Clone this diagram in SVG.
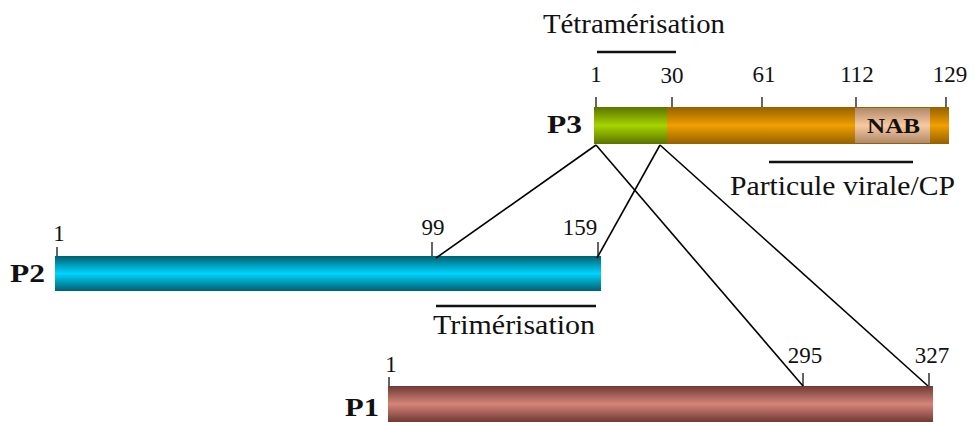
<svg xmlns="http://www.w3.org/2000/svg" width="975" height="422" viewBox="0 0 975 422">
<defs>
<linearGradient id="gGreen" x1="0" y1="0" x2="0" y2="1">
<stop offset="0" stop-color="#5b7300"/><stop offset="0.5" stop-color="#a6d400"/><stop offset="1" stop-color="#5b7300"/>
</linearGradient>
<linearGradient id="gOrange" x1="0" y1="0" x2="0" y2="1">
<stop offset="0" stop-color="#946000"/><stop offset="0.5" stop-color="#f0a000"/><stop offset="1" stop-color="#946000"/>
</linearGradient>
<linearGradient id="gNab" x1="0" y1="0" x2="0" y2="1">
<stop offset="0" stop-color="#b08a6a"/><stop offset="0.5" stop-color="#f8c9a0"/><stop offset="1" stop-color="#b08a6a"/>
</linearGradient>
<linearGradient id="gCyan" x1="0" y1="0" x2="0" y2="1">
<stop offset="0" stop-color="#006070"/><stop offset="0.5" stop-color="#00d4ff"/><stop offset="1" stop-color="#006070"/>
</linearGradient>
<linearGradient id="gPink" x1="0" y1="0" x2="0" y2="1">
<stop offset="0" stop-color="#6e3a34"/><stop offset="0.5" stop-color="#d6847a"/><stop offset="1" stop-color="#6e3a34"/>
</linearGradient>
</defs>
<style>
text{font-family:"Liberation Serif","Times New Roman",serif;fill:#111}
.num{font-size:23px;text-anchor:middle}
.lbl{font-size:27px}
.name{font-size:26px;font-weight:bold}
.tick{stroke:#111;stroke-width:1.3}
.bar{stroke:#111;stroke-width:2.5}
.conn line{stroke:#000;stroke-width:1.6}
</style>

<g id="P3">
<rect x="667" y="107" width="282" height="37" fill="url(#gOrange)"/>
<rect x="594" y="107" width="73" height="37" fill="url(#gGreen)"/>
<rect x="855" y="108" width="75" height="35" fill="url(#gNab)"/>
<text x="867" y="133" font-size="22" font-weight="bold" textLength="53" lengthAdjust="spacingAndGlyphs">NAB</text>
<text class="name" x="547" y="133" textLength="35" lengthAdjust="spacingAndGlyphs">P3</text>
<line class="tick" x1="596" y1="97" x2="596" y2="107"/>
<line class="tick" x1="672" y1="97" x2="672" y2="107"/>
<line class="tick" x1="762" y1="97" x2="762" y2="107"/>
<line class="tick" x1="856" y1="97" x2="856" y2="107"/>
<line class="tick" x1="946" y1="97" x2="946" y2="107"/>
<text class="num" x="596" y="82">1</text>
<text class="num" x="672" y="83">30</text>
<text class="num" x="764" y="82">61</text>
<text class="num" x="857" y="82">112</text>
<text class="num" x="950" y="82">129</text>
</g>

<g id="tetramerisation">
<text class="lbl" x="543" y="33" textLength="182" lengthAdjust="spacingAndGlyphs">Tétramérisation</text>
<line class="bar" x1="597" y1="52" x2="676" y2="52"/>
</g>

<g id="particule">
<line class="bar" x1="769" y1="162" x2="913" y2="162"/>
<text class="lbl" x="730" y="195" textLength="225" lengthAdjust="spacingAndGlyphs">Particule virale/CP</text>
</g>

<g id="P2">
<rect x="55" y="256" width="546" height="35" fill="url(#gCyan)"/>
<text class="name" x="10" y="282" textLength="35" lengthAdjust="spacingAndGlyphs">P2</text>
<line class="tick" x1="57" y1="247" x2="57" y2="256"/>
<line class="tick" x1="432" y1="242" x2="432" y2="256"/>
<line class="tick" x1="598" y1="242" x2="598" y2="256"/>
<text class="num" x="59" y="241">1</text>
<text class="num" x="433" y="235">99</text>
<text class="num" x="580" y="235">159</text>
</g>

<g id="trimerisation">
<line class="bar" x1="436" y1="306" x2="596" y2="306"/>
<text class="lbl" x="433" y="334" textLength="162" lengthAdjust="spacingAndGlyphs">Trimérisation</text>
</g>

<g id="P1">
<rect x="388" y="386" width="545" height="36" fill="url(#gPink)"/>
<text class="name" x="345" y="416" textLength="34" lengthAdjust="spacingAndGlyphs">P1</text>
<line class="tick" x1="389" y1="377" x2="389" y2="386"/>
<line class="tick" x1="803" y1="373" x2="803" y2="386"/>
<line class="tick" x1="929" y1="373" x2="929" y2="386"/>
<text class="num" x="391" y="372">1</text>
<text class="num" x="805" y="363">295</text>
<text class="num" x="932" y="363">327</text>
</g>

<g id="connectors" class="conn">
<line x1="596" y1="145" x2="436" y2="258"/>
<line x1="660" y1="145" x2="597" y2="258"/>
<line x1="596" y1="145" x2="803" y2="386"/>
<line x1="660" y1="145" x2="928" y2="386"/>
</g>
</svg>
